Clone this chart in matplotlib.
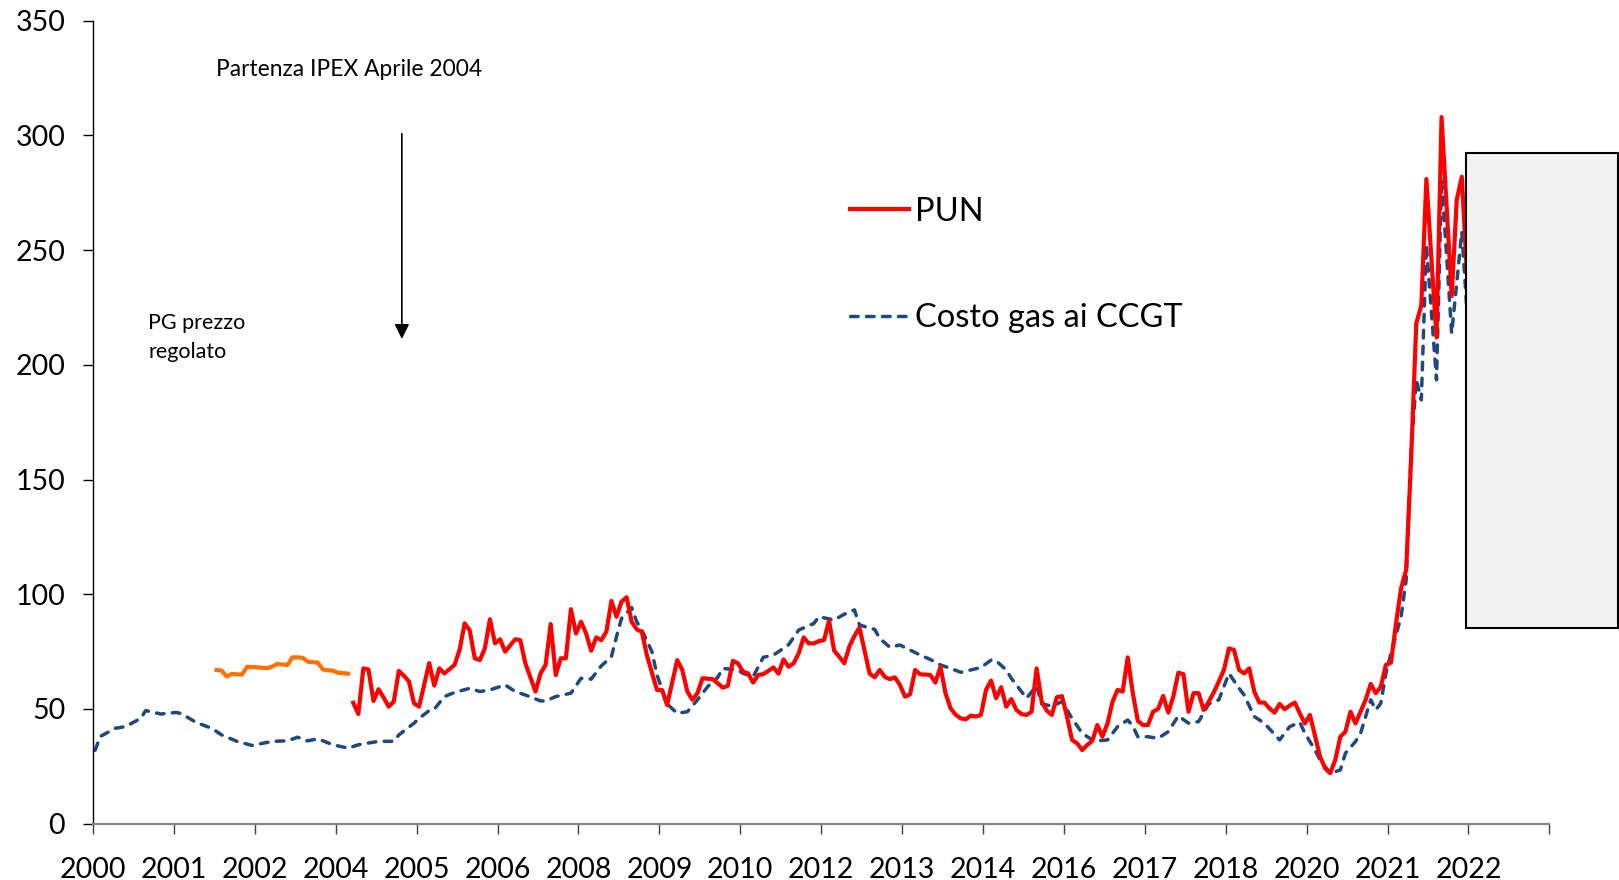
import numpy as np
import matplotlib.pyplot as plt
from matplotlib.patches import Rectangle

plt.rcParams['font.family'] = ['Lato', 'DejaVu Sans']

# months counted from Jan 2000 (0)
# PUN monthly, Apr 2004 -> Aug 2022
pun = [
    52.7, 47.8, 67.7, 67.2, 53.5, 58.6, 55, 51, 53.2,                      # 2004 (Apr-Dec)
    66.6, 64.5, 62, 52.5, 51, 60.5, 70, 60.2, 67.7, 65.5, 67.3, 69.2,      # 2005
    75.7, 87.3, 84.4, 72.1, 71.3, 76.4, 89.1, 78.6, 80.4, 75, 77.7, 80.4,  # 2006
    80, 69.9, 63.7, 57.6, 65.5, 69.2, 87, 64.8, 72.1, 72.1, 93.5, 82.9,    # 2007
    88, 82.9, 75.4, 81.2, 80, 83.7, 97.1, 90.2, 96.8, 98.7, 88, 84.7,      # 2008
    83.7, 73.5, 65.9, 58.3, 58.3, 51.7, 61.5, 71.3, 67, 57.6, 54, 56.9,    # 2009
    63.4, 63.2, 63, 61.2, 59.3, 60.1, 71, 69.9, 66.3, 65.5, 61.5, 64.8,    # 2010
    65.2, 66.6, 68.1, 65.4, 71.6, 68.4, 69.9, 74.3, 81.2, 78.6, 78.6, 79.6,  # 2011
    80, 88.5, 75.4, 72.8, 69.9, 77.2, 81.8, 85.5, 75.4, 65.5, 63.8, 67,    # 2012
    64, 63, 63.8, 60.5, 55.4, 56.4, 67, 65.1, 65, 64.8, 61.5, 68.4,        # 2013
    56.9, 50.3, 47.5, 45.9, 45.5, 47.1, 46.7, 47.4, 58.3, 62.4, 54.7, 59.5,  # 2014
    51, 54.3, 49.6, 47.8, 47.4, 48.8, 67.7, 53.2, 49.3, 47.4, 55.1, 55.6,  # 2015
    46.7, 36.5, 35, 32.1, 34.3, 36.1, 43, 37.9, 43.7, 53.2, 58.3, 57.6,    # 2016
    72.5, 56.9, 44.8, 43, 43, 48.8, 50, 55.7, 48.4, 55.4, 65.8, 65.2,      # 2017
    48.8, 56.9, 56.9, 49.6, 53.2, 57.2, 62, 67, 76.4, 75.7, 67, 65.5,      # 2018
    67.7, 57.6, 52.8, 52.8, 50.3, 48.4, 52.2, 49.9, 51.5, 52.8, 48.1, 43.7,  # 2019
    47.4, 38.2, 29.2, 24.1, 22, 27.8, 37.9, 40.1, 48.8, 43.7, 48.8, 54,    # 2020
    60.9, 56.9, 59.7, 69.2, 70.2, 87.3, 102.6, 110.6, 160, 218, 226, 281,  # 2021
    246, 212, 308, 269, 230, 272, 282, 240,                                # 2022
]
pun_start = 51

# PG regulated price, Jan 2002 -> Mar 2004
pg = [67, 66.7, 64.2, 65.3, 65.1, 65, 68.3, 68.3, 68.1, 68, 67.8, 68.5,
      69.6, 69.4, 69.2, 72.5, 72.5, 72.3, 70.6, 70.4, 70.2, 67.2, 66.9, 66.7,
      65.8, 65.6, 65.4]
pg_start = 24

# gas cost for CCGT (read at the line's vertices)
gas_months = [0, 1, 4, 6, 9, 10, 13, 16, 17, 20, 23, 25, 28, 31, 35, 38, 40, 42, 44, 47,
              50, 52, 56, 59, 60, 63, 64, 66, 67, 69, 71, 74, 76, 78, 81, 83, 85, 88, 89, 91,
              94, 96, 98, 100, 102, 103, 104, 106, 107, 108, 110, 111, 113, 115, 117, 119, 121, 123, 124, 127,
              128, 130, 132, 134, 136, 137, 139, 142, 143, 146, 148, 150, 151, 154, 155, 157, 159, 161, 163, 165,
              167, 169, 171, 173, 175, 177, 178, 180, 181, 183, 184, 186, 187, 189, 191, 193, 195, 197, 198, 200,
              202, 204, 205, 206, 208, 210, 212, 214, 216, 218, 220, 222, 224, 226, 227, 229, 231, 234, 236, 238,
              239, 241, 242, 244, 246, 247, 249, 250, 252, 253, 254, 255, 256, 258, 259, 260, 261, 262, 263, 265,
              266, 268, 270, 271]
gas_vals = [32, 38, 41.6, 42.3, 45.9, 49.3, 47.8, 48.5, 48, 44.1, 41.6, 38.7, 35.9, 34.1, 35.9, 36.1, 37.7, 36.1, 37, 34.4,
            32.9, 34.4, 35.9, 35.9, 38.7, 43.8, 45.9, 49.3, 49.9, 55.4, 57.2, 59, 57.6, 58.3, 60.5, 57.6, 56.1, 53.5, 53.5, 55.4,
            56.9, 63.4, 63, 68.8, 72.8, 81.5, 89.5, 94.2, 88, 84.4, 75, 64.8, 52.2, 48.1, 48.8, 54, 59.7, 63.8, 67.7, 67,
            65.5, 64.1, 72.5, 73.5, 76.4, 78, 84.4, 87.3, 90.2, 88.8, 91.3, 93.2, 86.6, 84.7, 80.8, 76.9, 77.9, 75.7, 73.5, 71.6,
            69.2, 67.7, 66, 67, 68.1, 71.3, 71, 67, 63.4, 57.6, 54.7, 60.1, 52.2, 51.3, 53.2, 45.9, 39.4, 36.5, 36.1, 36.5,
            42.3, 45.2, 42.6, 37.9, 37.9, 37.2, 40.1, 47, 43.8, 44.5, 52.2, 54, 65.5, 59, 56.1, 46.7, 43.8, 36.5, 42.3, 44.2,
            39.4, 32.1, 27.8, 22, 23.4, 30.7, 35.8, 39.4, 54, 49.6, 52.5, 65.5, 74.2, 90.2, 106.2, 163, 193.5, 184.7, 252.3, 193.5,
            281, 213.7, 258, 224]

tick_labels = ['2000', '2001', '2002', '2004', '2005', '2006', '2008', '2009', '2010',
               '2012', '2013', '2014', '2016', '2017', '2018', '2020', '2021', '2022', '']

fig = plt.figure(figsize=(16.19, 8.8), dpi=100)
ax = fig.add_axes([0.0574, 0.064, 0.8996, 0.9124])

pun_x = np.arange(pun_start, pun_start + len(pun))
pg_x = np.arange(pg_start, pg_start + len(pg))

ax.plot(gas_months, gas_vals, color='#1F497D', lw=2.5, linestyle=(0, (2.2, 2.4)),
        dash_capstyle='round', label='Costo gas ai CCGT', zorder=2)
ax.plot(pun_x, pun, color='#FF0000', lw=3, solid_joinstyle='round', label='PUN', zorder=3)
ax.plot(pg_x, pg, color='#FF7000', lw=3, zorder=3)

xmin, xmax = -0.43, 287.3
ax.set_xlim(xmin, xmax)
ax.set_ylim(0, 350)
ax.set_xticks(np.linspace(xmin, xmax, 19))
ax.set_xticklabels(tick_labels)
ax.set_yticks(np.arange(0, 351, 50))

ax.tick_params(axis='y', direction='out', length=7, width=1, pad=13, labelsize=20.5)
ax.tick_params(axis='x', direction='out', length=7, width=1, pad=17, labelsize=20.5, color='#404040')
ax.spines['top'].set_visible(False)
ax.spines['right'].set_visible(False)
ax.spines['bottom'].set_color('#868686')
ax.spines['bottom'].set_linewidth(1.6)
ax.spines['left'].set_linewidth(1)

# shaded box on the right
ax.add_patch(Rectangle((270.9, 85.4), 30, 207.1, facecolor='#F2F2F2', edgecolor='black',
                       lw=1.5, clip_on=False, zorder=5))

ax.text(23.9, 325.9, 'Partenza IPEX Aprile 2004', fontsize=16.4, va='baseline')
ax.annotate('', xy=(60.6, 210.1), xytext=(60.6, 302),
            arrowprops=dict(arrowstyle='-|>', color='black', lw=1.2, mutation_scale=22))
ax.text(10.5, 215.6, 'PG prezzo', fontsize=15.5, va='baseline')
ax.text(10.5, 203, 'regolato', fontsize=15.5, va='baseline')

handles, labels = ax.get_legend_handles_labels()
ax.legend(handles[::-1], labels[::-1], loc='upper left', bbox_to_anchor=(0.525, 0.7766),
          bbox_transform=fig.transFigure, frameon=False, fontsize=23.5,
          handlelength=1.8, handletextpad=0.2, labelspacing=2.35, borderpad=0, borderaxespad=0)

fig.savefig('out.png', dpi=100)
